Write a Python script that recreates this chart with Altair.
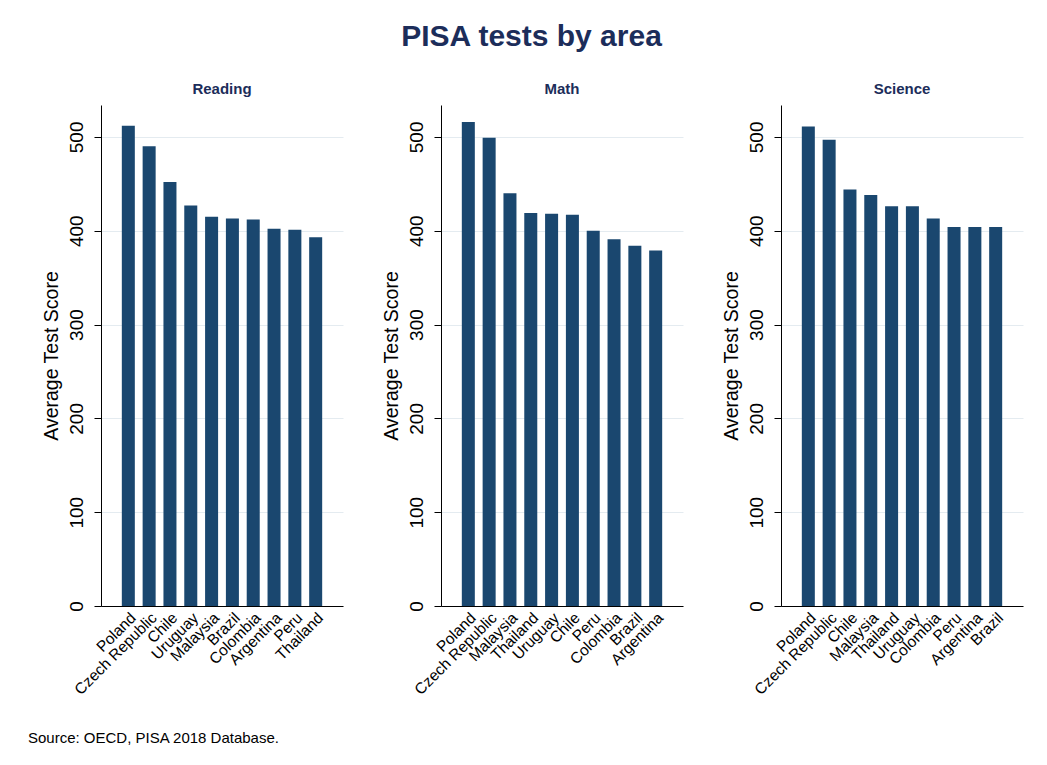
import altair as alt
import pandas as pd

reading_countries = ["Poland", "Czech Republic", "Chile", "Uruguay", "Malaysia", "Brazil", "Colombia", "Argentina", "Peru", "Thailand"]
reading_scores = [512, 490, 452, 427, 415, 413, 412, 402, 401, 393]

math_countries = ["Poland", "Czech Republic", "Malaysia", "Thailand", "Uruguay", "Chile", "Peru", "Colombia", "Brazil", "Argentina"]
math_scores = [516, 499, 440, 419, 418, 417, 400, 391, 384, 379]

science_countries = ["Poland", "Czech Republic", "Chile", "Malaysia", "Thailand", "Uruguay", "Colombia", "Peru", "Argentina", "Brazil"]
science_scores = [511, 497, 444, 438, 426, 426, 413, 404, 404, 404]

y_ticks = [0, 100, 200, 300, 400, 500]
SOURCE = "Source: OECD, PISA 2018 Database."
NAVY = "#1a476f"
TITLE_COLOR = "#1c2d5a"
FONT = "Liberation Sans"


def panel(name, countries, scores, source=False):
    df = pd.DataFrame({"country": countries, "score": scores})
    bars = alt.Chart(df).mark_bar(color=NAVY).encode(
        x=alt.X(
            "country:N",
            sort=countries,
            title=None,
            scale=alt.Scale(paddingInner=0.375, paddingOuter=1),
            axis=alt.Axis(
                labelAngle=315, labelFontSize=15.5, ticks=False, labelPadding=4,
                domainColor="black", labelColor="black", grid=False,
                labelFont=FONT,
            ),
        ),
        y=alt.Y(
            "score:Q",
            scale=alt.Scale(domain=[0, 534], nice=False),
            axis=alt.Axis(
                values=y_ticks, title="Average Test Score", titleFontSize=19.5,
                titleFontWeight="normal", titleColor="black", titlePadding=6,
                labelAngle=270, labelAlign="center", labelBaseline="bottom",
                labelFontSize=19, labelColor="black", labelPadding=8,
                tickSize=7, tickColor="black", domainColor="black",
                gridColor="#e4ebf0", grid=True, labelFont=FONT, titleFont=FONT,
            ),
        ),
    )
    layers = [bars]
    if source:
        src = alt.Chart(pd.DataFrame({"t": [SOURCE]})).mark_text(
            align="left", baseline="middle", fontSize=15, color="black", font=FONT
        ).encode(text="t:N", x=alt.value(-73), y=alt.value(633))
        layers.append(src)
    return alt.layer(*layers).properties(
        width=242, height=501,
        title=alt.TitleParams(name, fontSize=15, fontWeight="bold", color=TITLE_COLOR,
                              font=FONT, offset=8, anchor="middle"),
    )


chart = alt.hconcat(
    panel("Reading", reading_countries, reading_scores, source=True),
    panel("Math", math_countries, math_scores),
    panel("Science", science_countries, science_scores),
    spacing=98,
    bounds="flush",
).properties(
    title=alt.TitleParams("PISA tests by area", fontSize=30, fontWeight="bold",
                          color=TITLE_COLOR, font=FONT, anchor="middle", offset=30, dx=6),
    padding={"left": 20, "top": 14, "right": 5, "bottom": 5},
    background="white",
).configure_view(strokeWidth=0, stroke="transparent")

chart.save("out.html", embed_options={"renderer": "svg", "actions": False})
